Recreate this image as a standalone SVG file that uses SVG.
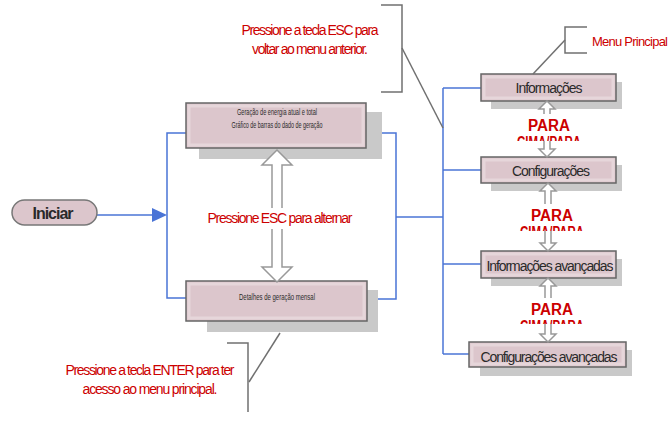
<svg xmlns="http://www.w3.org/2000/svg" width="670" height="426" viewBox="0 0 670 426">
<defs>
<style>
.box{fill:#dcc6cc;stroke:#666;stroke-width:1.5}
.inner{fill:none;stroke:#e6d6da;stroke-width:3}
.shadow{fill:#c9c9c9}
.blue{fill:none;stroke:#4a74d6;stroke-width:1.5}
.call{fill:none;stroke:#707070;stroke-width:1.5}
.red{fill:#cc0000;font-family:"Liberation Sans",Arial,sans-serif}
.lbl{fill:#2a2a2a;font-family:"Liberation Sans",Arial,sans-serif}
.dbl{fill:#fff;stroke:#999;stroke-width:1.5}
.para{fill:#cc0000;font-family:"Liberation Sans",Arial,sans-serif;font-weight:bold;font-size:16px}
</style>
<clipPath id="c1"><rect x="515" y="110" width="70" height="31"/></clipPath>
<clipPath id="c2"><rect x="515" y="200" width="70" height="31"/></clipPath>
<clipPath id="c3"><rect x="515" y="294" width="70" height="30"/></clipPath>
</defs>
<rect width="670" height="426" fill="#fff"/>

<g id="connectors">
<line class="blue" x1="97" y1="215" x2="154" y2="215"/>
<polygon points="152,208 167,215 152,222" fill="#4a74d6"/>
<polyline class="blue" points="186,133 167,133 167,298 186,298"/>
<polyline class="blue" points="366,133 396,133 396,299 367,299"/>
<line class="blue" x1="396" y1="217" x2="443" y2="217"/>
<line class="blue" x1="443" y1="88" x2="443" y2="354"/>
<line class="blue" x1="443" y1="88" x2="481" y2="88"/>
<line class="blue" x1="443" y1="170" x2="481" y2="170"/>
<line class="blue" x1="443" y1="264" x2="481" y2="264"/>
<line class="blue" x1="443" y1="354" x2="469" y2="354"/>
</g>

<g id="node-top">
<rect class="shadow" x="199" y="112" width="183" height="47"/>
<rect class="box" x="186" y="103" width="180" height="45"/>
<rect class="inner" x="189" y="106" width="174" height="39"/>
<text class="lbl" x="277" y="115" font-size="9" text-anchor="middle" textLength="80" lengthAdjust="spacingAndGlyphs">Geração de energia atual e total</text>
<text class="lbl" x="277" y="128" font-size="9" text-anchor="middle" textLength="91" lengthAdjust="spacingAndGlyphs">Gráfico de barras do dado de geração</text>
</g>

<g id="node-bottom">
<rect class="shadow" x="207" y="290" width="171" height="42"/>
<rect class="box" x="186" y="281" width="181" height="40"/>
<rect class="inner" x="189" y="284" width="175" height="34"/>
<text class="lbl" x="277" y="300" font-size="9" text-anchor="middle" textLength="76" lengthAdjust="spacingAndGlyphs">Detalhes de geração mensal</text>
</g>

<g id="toggle-arrow">
<path class="dbl" d="M277,150 L292,165 L282,165 L282,267 L292,267 L277,282 L262,267 L272,267 L272,165 L262,165 Z"/>
<rect x="205" y="208" width="150" height="21" fill="#fff"/>
<text class="red" x="280" y="223" font-size="14" text-anchor="middle" textLength="145" lengthAdjust="spacing">Pressione ESC para alternar</text>
</g>

<g id="node-iniciar">
<rect x="12" y="200" width="85" height="25" rx="12.5" fill="#dcc6cc" stroke="#777" stroke-width="1.5"/>
<text x="53" y="219" font-size="16" font-weight="bold" fill="#2a2a2a" font-family="Liberation Sans,Arial,sans-serif" text-anchor="middle" textLength="41" lengthAdjust="spacing">Iniciar</text>
</g>

<g id="node-informacoes">
<rect class="shadow" x="491" y="82" width="131" height="27"/>
<rect class="box" x="481" y="74" width="135" height="27"/>
<rect class="inner" x="484" y="77" width="129" height="21"/>
<text class="lbl" x="549" y="93" font-size="14" text-anchor="middle" textLength="67" lengthAdjust="spacing">Informações</text>
</g>

<g id="node-configuracoes">
<rect class="shadow" x="491" y="165" width="131" height="26"/>
<rect class="box" x="481" y="157" width="135" height="26"/>
<rect class="inner" x="484" y="160" width="129" height="20"/>
<text class="lbl" x="551" y="176" font-size="14" text-anchor="middle" textLength="78" lengthAdjust="spacing">Configurações</text>
</g>

<g id="node-info-avancadas">
<rect class="shadow" x="491" y="259" width="131" height="27"/>
<rect class="box" x="481" y="251" width="135" height="27"/>
<rect class="inner" x="484" y="254" width="129" height="21"/>
<text class="lbl" x="550" y="271" font-size="14" text-anchor="middle" textLength="127" lengthAdjust="spacing">Informações avançadas</text>
</g>

<g id="node-config-avancadas">
<rect class="shadow" x="480" y="350" width="152" height="26"/>
<rect class="box" x="469" y="342" width="157" height="25"/>
<rect class="inner" x="472" y="345" width="151" height="19"/>
<text class="lbl" x="549" y="362" font-size="14" text-anchor="middle" textLength="137" lengthAdjust="spacing">Configurações avançadas</text>
</g>

<g id="nav-arrows">
<path class="dbl" d="M547,101 L555,109 L550,109 L550,149 L555,149 L547,157 L539,149 L544,149 L544,109 L539,109 Z"/>
<rect x="515" y="114" width="70" height="27" fill="#fff"/>
<text class="para" x="549" y="131" text-anchor="middle" textLength="42" lengthAdjust="spacingAndGlyphs">PARA</text>
<text class="para" x="549" y="148" text-anchor="middle" textLength="64" lengthAdjust="spacingAndGlyphs" clip-path="url(#c1)">CIMA/PARA</text>

<path class="dbl" d="M548,183 L556,191 L551,191 L551,243 L556,243 L548,251 L540,243 L545,243 L545,191 L540,191 Z"/>
<rect x="515" y="204" width="70" height="27" fill="#fff"/>
<text class="para" x="552" y="221" text-anchor="middle" textLength="42" lengthAdjust="spacingAndGlyphs">PARA</text>
<text class="para" x="552" y="238" text-anchor="middle" textLength="64" lengthAdjust="spacingAndGlyphs" clip-path="url(#c2)">CIMA/PARA</text>

<path class="dbl" d="M548,278 L556,286 L551,286 L551,334 L556,334 L548,342 L540,334 L545,334 L545,286 L540,286 Z"/>
<rect x="515" y="298" width="70" height="26" fill="#fff"/>
<text class="para" x="552" y="315" text-anchor="middle" textLength="42" lengthAdjust="spacingAndGlyphs">PARA</text>
<text class="para" x="552" y="332" text-anchor="middle" textLength="64" lengthAdjust="spacingAndGlyphs" clip-path="url(#c3)">CIMA/PARA</text>
</g>

<g id="callout-esc">
<polyline class="call" points="381,5 402,5 402,92 381,92"/>
<line class="call" x1="402" y1="48" x2="443" y2="128"/>
<text class="red" x="310" y="35" font-size="14" text-anchor="middle" textLength="137" lengthAdjust="spacing">Pressione a tecla ESC para</text>
<text class="red" x="310" y="54" font-size="14" text-anchor="middle" textLength="116" lengthAdjust="spacing">voltar ao menu anterior.</text>
</g>

<g id="callout-menu">
<polyline class="call" points="587,27 565,27 565,53 587,53"/>
<line class="call" x1="565" y1="40" x2="533" y2="74"/>
<text class="red" x="592" y="46" font-size="13" textLength="76" lengthAdjust="spacing">Menu Principal</text>
</g>

<g id="callout-enter">
<polyline class="call" points="227,343 248,343 248,412"/>
<line class="call" x1="249" y1="382" x2="280" y2="333"/>
<text class="red" x="150" y="375" font-size="14" text-anchor="middle" textLength="169" lengthAdjust="spacing">Pressione a tecla ENTER para ter</text>
<text class="red" x="150" y="394" font-size="14" text-anchor="middle" textLength="135" lengthAdjust="spacing">acesso ao menu principal.</text>
</g>
</svg>
